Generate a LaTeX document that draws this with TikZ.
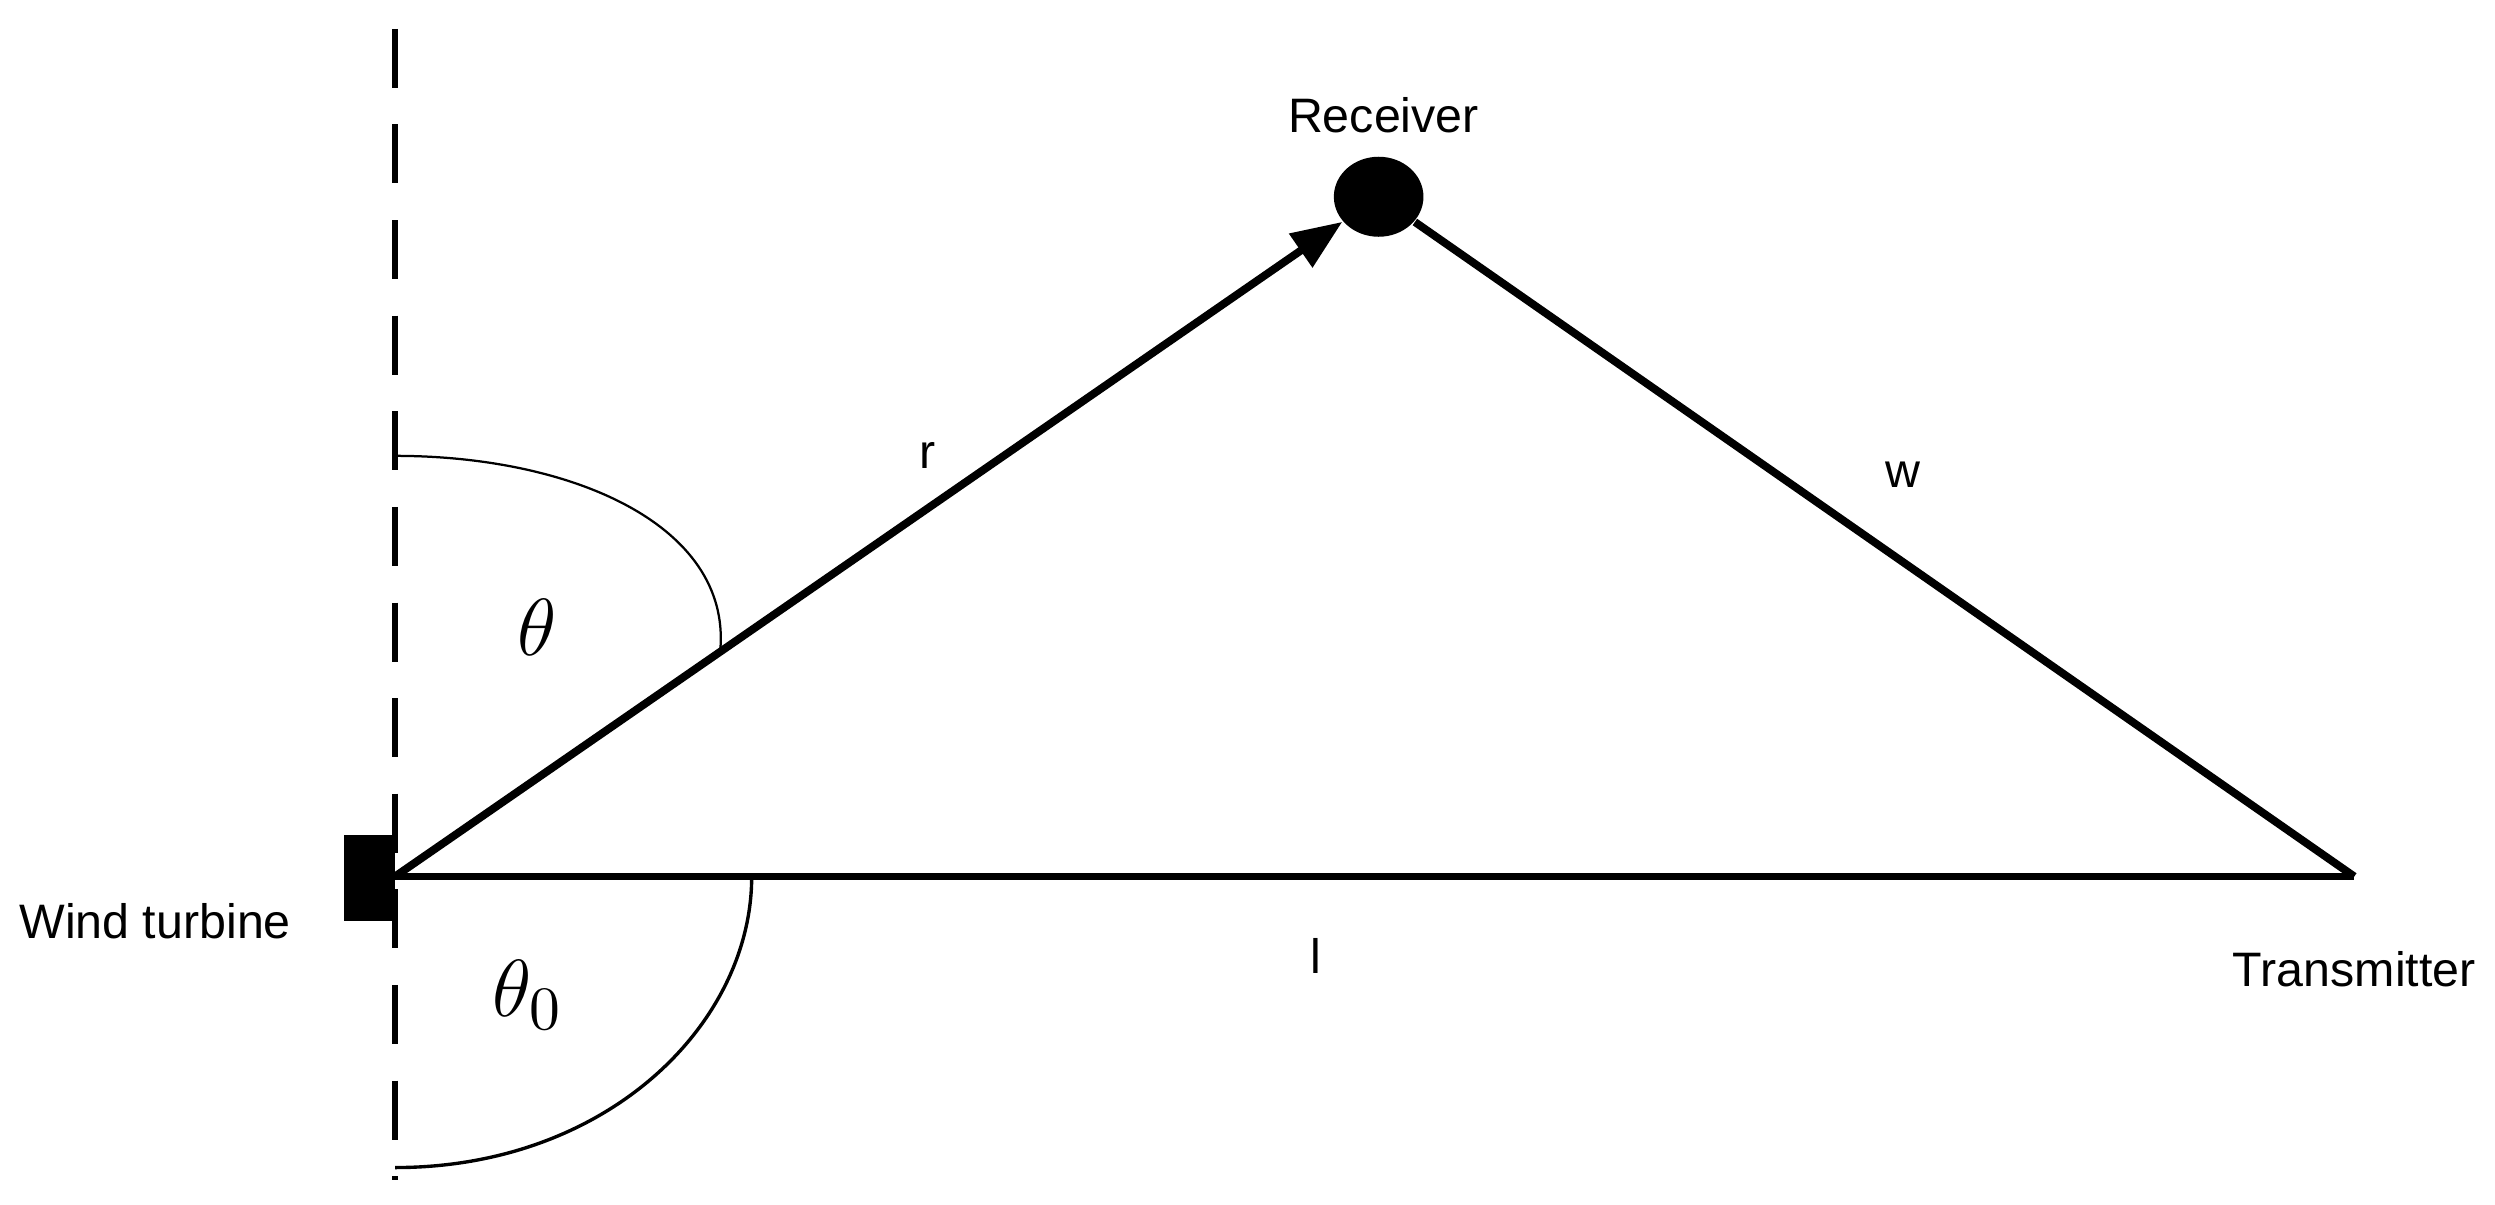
\documentclass[tikz,border=0pt]{standalone}
\usepackage{fontspec}
\setmainfont{Liberation Sans}
\usetikzlibrary{arrows.meta,shapes.geometric}
\begin{document}
\begin{tikzpicture}[line cap=butt,line join=round,x=0.01cm,y=-0.01cm,
  side/.style={line width=1.4pt},
  lbl/.style={font=\fontsize{8.6}{10}\selectfont},
  ang/.style={font=\fontsize{15}{17}\selectfont}]
\useasboundingbox (0,0) rectangle (1560,753);

\draw[line width=1pt,dash pattern=on 10.5pt off 6.5pt] (247,18)-- (247,738);
\coordinate (O) at (247,548);
\coordinate (T) at (1472,548);
\node[fill=black,inner sep=0pt,minimum width=0.32cm,minimum height=0.54cm] (wt) at (231,549) {};
\node[ellipse,fill=black,inner sep=0pt,minimum width=0.56cm,minimum height=0.5cm] (rx) at (862,123) {};

\draw[side,-{Triangle[length=9pt,width=7pt]}] (O)-- (rx);
\draw[side] (rx)-- (T);
\draw[side] (O)-- (T);

% angles
\draw[line width=0.4pt] (247,285) .. controls (360,285) and (460,330) .. (450,410);
\draw[line width=0.6pt] (470,548) .. controls (470,640) and (380,730) .. (247,730);

\node[lbl] at (865,72) {Receiver};
\node[lbl] at (580,285) {r};
\node[lbl] at (1190,297) {w};
\node[lbl] at (823,598) {l};
\node[lbl] at (1472,606) {Transmitter};
\node[lbl] at (97,576) {Wind turbine};
\node[ang] at (336,392) {$\theta$};
\node[ang] at (330,622) {$\theta_{0}$};
\end{tikzpicture}
\end{document}
